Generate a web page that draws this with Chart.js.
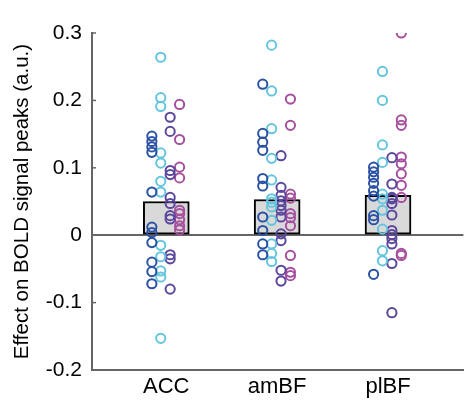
<!DOCTYPE html>
<html>
<head>
<meta charset="utf-8">
<script src="https://cdn.jsdelivr.net/npm/chart.js@4"></script>
<style>
  html, body { margin: 0; padding: 0; background: #fff; }
  #wrap { width: 470px; height: 418px; }
</style>
</head>
<body>
<div id="wrap"><canvas id="chart" width="470" height="418"></canvas></div>
<script>
const regions = ['ACC', 'amBF', 'plBF'];
const barMeans = [0.050, 0.053, 0.059];
const yTicks = [-0.2, -0.1, 0, 0.1, 0.2, 0.3];

// four groups of subjects, one list per region
const blueVals = [
  [0.147, 0.139, 0.131, 0.123, 0.064, 0.012, 0.004, -0.011, -0.040, -0.054, -0.072],
  [0.224, 0.151, 0.138, 0.126, 0.084, 0.073, 0.027, 0.007, -0.013, -0.029],
  [0.101, 0.094, 0.086, 0.077, 0.066, 0.058, 0.029, 0.023, -0.058],
];
const cyanVals = [
  [0.264, 0.204, 0.191, 0.122, 0.107, 0.080, 0.064, -0.015, -0.032, -0.053, -0.062, -0.153],
  [0.282, 0.214, 0.158, 0.114, 0.082, 0.054, 0.049, 0.042, 0.022, -0.013, -0.027, -0.039],
  [0.243, 0.200, 0.134, 0.108, 0.061, 0.054, 0.037, 0.009, -0.023, -0.038],
];
const purpleVals = [
  [0.175, 0.154, 0.096, 0.090, 0.056, 0.047, 0.029, 0.024, -0.029, -0.035, -0.080],
  [0.118, 0.071, 0.059, 0.051, 0.044, 0.037, 0.027, 0.002, -0.008, -0.052, -0.068],
  [0.115, 0.076, 0.056, 0.054, 0.047, 0.030, 0.007, 0.001, -0.005, -0.013, -0.042, -0.115],
];
const magentaVals = [
  [0.194, 0.142, 0.101, 0.085, 0.037, 0.032, 0.023, 0.014, 0.008],
  [0.202, 0.163, 0.061, 0.055, 0.032, 0.026, 0.014, -0.030, -0.055, -0.060],
  [0.300, 0.171, 0.163, 0.116, 0.106, 0.091, 0.074, 0.056, -0.027, -0.030],
];

const groups = [
  { vals: blueVals, color: '#2b52a3', shift: -0.13 },
  { vals: cyanVals, color: '#64c6de', shift: -0.05 },
  { vals: purpleVals, color: '#5b479c', shift: 0.035 },
  { vals: magentaVals, color: '#a6509f', shift: 0.12 },
];

const FONT = "'Liberation Sans', Arial, Helvetica, sans-serif";
const AXIS = '#666666';

const datasets = groups.map(g => ({
  type: 'scatter',
  data: g.vals.flatMap((list, ri) => list.map(v => ({ x: ri + 1 + g.shift, y: v }))),
  borderColor: g.color,
  backgroundColor: 'rgba(0,0,0,0)',
  pointRadius: 4.6,
  pointBorderWidth: 2,
  order: 1,
}));

datasets.push({
  type: 'bar',
  data: barMeans.map((v, i) => ({ x: i + 1, y: v })),
  backgroundColor: '#d9d9d9',
  borderColor: '#000',
  borderWidth: 2,
  borderSkipped: false,
  barThickness: 46,
  order: 10,
});

const innerTicks = {
  id: 'innerTicks',
  afterDraw(chart) {
    const ctx = chart.ctx;
    const y = chart.scales.y;
    ctx.save();
    ctx.strokeStyle = AXIS;
    ctx.lineWidth = 1.5;
    yTicks.forEach(v => {
      const py = y.getPixelForValue(v);
      ctx.beginPath();
      ctx.moveTo(y.right, py);
      ctx.lineTo(y.right + 4, py);
      ctx.stroke();
    });
    ctx.restore();
  }
};

new Chart(document.getElementById('chart'), {
  type: 'scatter',
  data: { datasets },
  options: {
    responsive: false,
    animation: false,
    layout: { padding: { top: 33, right: 3, left: 0, bottom: 0 } },
    plugins: { legend: { display: false }, tooltip: { enabled: false } },
    scales: {
      x: {
        type: 'linear',
        offset: false,
        min: 0.33,
        max: 3.68,
        afterBuildTicks: s => { s.ticks = regions.map((_, i) => ({ value: i + 1 })); },
        afterFit: s => { s.height = 48; },
        ticks: {
          callback: v => regions[v - 1],
          color: '#000',
          font: { family: FONT, size: 22 },
          padding: 4,
          maxRotation: 0,
          autoSkip: false,
        },
        grid: { display: false, drawTicks: false, offset: false },
        border: { display: true, color: AXIS, width: 2 },
      },
      y: {
        min: -0.2,
        max: 0.3,
        afterBuildTicks: s => { s.ticks = yTicks.map(v => ({ value: v })); },
        afterFit: s => { s.width = 92; },
        ticks: {
          callback: v => String(+v.toFixed(1)),
          color: '#000',
          font: { family: FONT, size: 21 },
          padding: 10,
        },
        grid: {
          drawTicks: false,
          color: c => (c.tick && c.tick.value === 0 ? AXIS : 'rgba(0,0,0,0)'),
          lineWidth: 2,
        },
        border: { display: true, color: AXIS, width: 2 },
        title: {
          display: true,
          text: 'Effect on BOLD signal peaks (a.u.)',
          color: '#000',
          font: { family: FONT, size: 20.5 },
          padding: { top: 10, bottom: 0 },
        },
      },
    },
  },
  plugins: [innerTicks],
});
</script>
</body>
</html>
